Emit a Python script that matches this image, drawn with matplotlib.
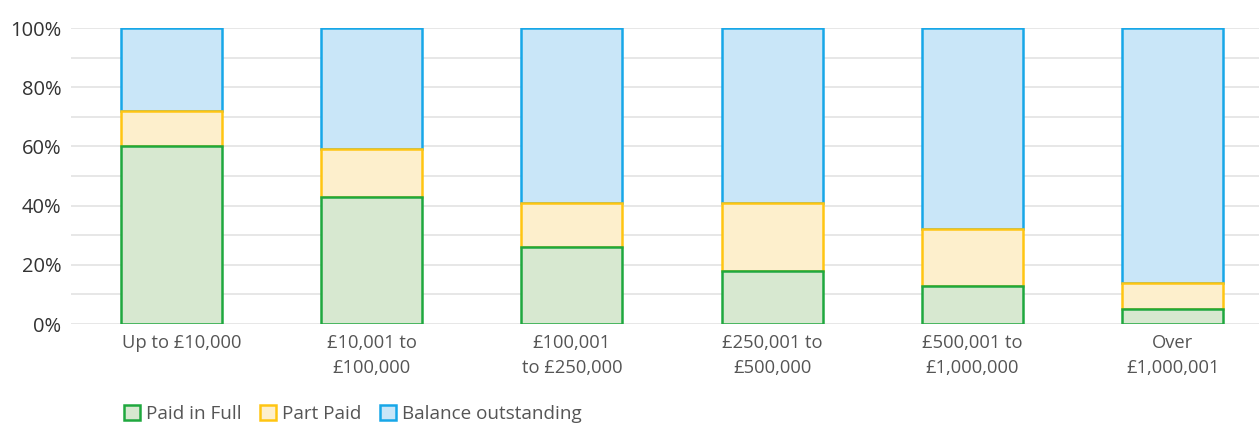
import numpy as np
import matplotlib.pyplot as plt
import matplotlib.transforms as mtransforms
from matplotlib.patches import Patch

categories = ["Up to £10,000", "£10,001 to\n£100,000", "£100,001\nto £250,000",
              "£250,001 to\n£500,000", "£500,001 to\n£1,000,000", "Over\n£1,000,001"]
paid_full = [60, 43, 26, 18, 13, 5]
part_paid = [12, 16, 15, 23, 19, 9]
balance = [28, 41, 59, 59, 68, 86]

series = [
    ("Paid in Full", paid_full, "#d7e8d0", "#1fa83e"),
    ("Part Paid", part_paid, "#fdefcc", "#ffc512"),
    ("Balance outstanding", balance, "#c9e6f8", "#17a7e8"),
]

plt.rcParams['font.family'] = ['Open Sans', 'DejaVu Sans']

fig = plt.figure(figsize=(12.59, 4.23), dpi=100)
ax = fig.add_axes([71 / 1259, 99 / 423, 1 - 71 / 1259, 296 / 423])

x = np.arange(len(categories))
bottom = np.zeros(len(categories))
handles = []
for k, (name, vals, fill, edge) in enumerate(series):
    # lower segments drawn on top so their edge shows at the boundary
    ax.bar(x, vals, width=0.505, bottom=bottom, color=fill, edgecolor=edge,
           linewidth=1.8, zorder=5 - k)
    bottom += np.array(vals)
    handles.append(Patch(facecolor=fill, edgecolor=edge, linewidth=1.8, label=name))

ax.set_ylim(0, 100)
ax.set_xlim(-0.5, 5.43)
ax.set_yticks(np.arange(0, 101, 10))
ax.set_yticklabels([f"{v}%" if v % 20 == 0 else "" for v in range(0, 101, 10)],
                   fontsize=14.5, color="#333333")
ax.set_xticks(x)
ax.set_xticklabels(categories, fontsize=13.2, color="#555555", linespacing=1.5)
ax.tick_params(length=0, axis="y", pad=7)
ax.tick_params(length=0, axis="x", pad=7)
ax.grid(axis="y", color="#e3e3e3", linewidth=1.2, zorder=0)
for s in ax.spines.values():
    s.set_visible(False)

# first label sits a little right of its bar in the original
lbl = ax.get_xticklabels()[0]
lbl.set_transform(lbl.get_transform() + mtransforms.ScaledTranslation(11 / 100, 0, fig.dpi_scale_trans))

fig.legend(handles=handles, loc="lower left", bbox_to_anchor=(107 / 1259, -0.04),
           ncol=3, frameon=False, fontsize=13.6, labelcolor="#555555",
           handlelength=0.85, handleheight=0.85, handletextpad=0.3, columnspacing=1.0)

fig.savefig("out.png", dpi=100)
